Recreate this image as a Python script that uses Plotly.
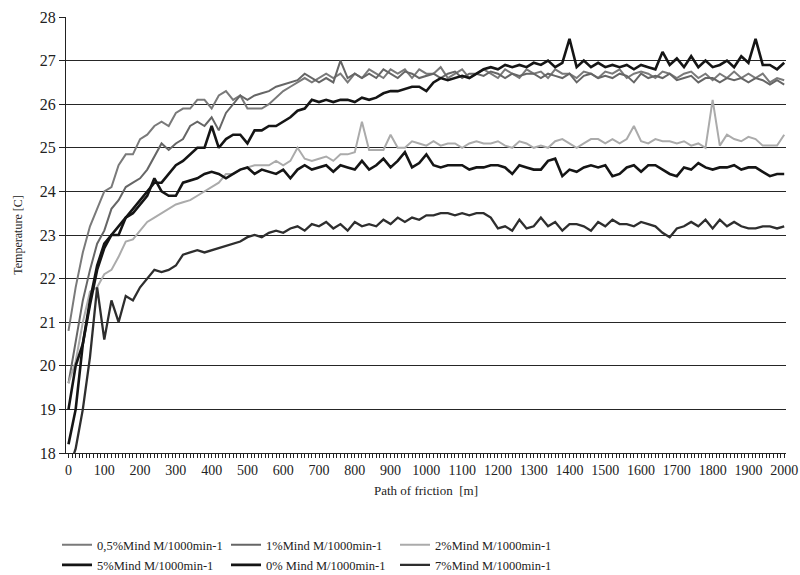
import plotly.graph_objects as go

# Path of friction [m], one reading every 20 m
distance = list(range(0, 2001, 20))

t_05 = [20.8, 21.8, 22.6, 23.2, 23.6, 24.0, 24.1, 24.6, 24.85, 24.85,
        25.2, 25.3, 25.5, 25.6, 25.5, 25.8, 25.9, 25.9, 26.1, 26.1,
        25.9, 26.2, 26.3, 26.1, 26.2, 25.9, 25.9, 25.9, 26.0, 26.15,
        26.3, 26.4, 26.5, 26.6, 26.5, 26.6, 26.7, 26.6, 26.7, 26.5,
        26.7, 26.6, 26.8, 26.7, 26.6, 26.8, 26.7, 26.8, 26.6, 26.8,
        26.7, 26.7, 26.85, 26.6, 26.7, 26.8, 26.6, 26.7, 26.8, 26.7,
        26.6, 26.8, 26.7, 26.6, 26.8, 26.7, 26.75, 26.6, 26.8, 26.7,
        26.7, 26.6, 26.75, 26.7, 26.6, 26.75, 26.7, 26.8, 26.6, 26.7,
        26.75, 26.7, 26.6, 26.75, 26.7, 26.6, 26.7, 26.75, 26.6, 26.7,
        26.55, 26.7, 26.6, 26.75, 26.6, 26.7, 26.6, 26.7, 26.5, 26.6,
        26.55]

t_1 = [19.6, 20.6, 21.5, 22.2, 22.8, 23.1, 23.6, 23.8, 24.1, 24.2,
       24.3, 24.5, 24.8, 25.1, 24.95, 25.1, 25.2, 25.5, 25.6, 25.5,
       25.7, 25.4, 25.8, 26.0, 26.2, 26.1, 26.2, 26.25, 26.3, 26.4,
       26.45, 26.5, 26.55, 26.7, 26.6, 26.5, 26.6, 26.5, 27.0, 26.6,
       26.7, 26.6, 26.7, 26.6, 26.8, 26.7, 26.6, 26.75, 26.7, 26.6,
       26.65, 26.7, 26.6, 26.7, 26.75, 26.6, 26.7, 26.7, 26.65, 26.75,
       26.7, 26.6, 26.7, 26.65, 26.7, 26.7, 26.6, 26.7, 26.65, 26.6,
       26.7, 26.5, 26.65, 26.7, 26.6, 26.65, 26.6, 26.7, 26.65, 26.5,
       26.7, 26.6, 26.65, 26.6, 26.7, 26.55, 26.6, 26.65, 26.5, 26.6,
       26.6, 26.5, 26.6, 26.55, 26.6, 26.5, 26.6, 26.55, 26.45, 26.55,
       26.45]

t_2 = [19.6, 20.1, 21.0, 21.7, 21.8, 22.1, 22.2, 22.5, 22.85, 22.9,
       23.1, 23.3, 23.4, 23.5, 23.6, 23.7, 23.75, 23.8, 23.9, 24.0,
       24.1, 24.2, 24.4, 24.4, 24.5, 24.55, 24.6, 24.6, 24.6, 24.7,
       24.6, 24.7, 25.0, 24.75, 24.7, 24.75, 24.8, 24.7, 24.85, 24.85,
       24.9, 25.6, 24.95, 24.95, 24.95, 25.3, 25.0, 25.0, 25.15, 25.1,
       25.05, 25.15, 25.05, 25.1, 25.1, 25.0, 25.1, 25.15, 25.1, 25.1,
       25.15, 25.05, 25.0, 25.15, 25.1, 25.0, 25.05, 25.0, 25.15, 25.2,
       25.1, 25.0, 25.1, 25.2, 25.2, 25.1, 25.2, 25.1, 25.2, 25.5,
       25.15, 25.1, 25.2, 25.15, 25.15, 25.1, 25.15, 25.05, 25.1, 25.0,
       26.1, 25.05, 25.3, 25.2, 25.15, 25.25, 25.2, 25.05, 25.05, 25.05,
       25.3]

t_5 = [18.2, 19.0, 20.5, 21.5, 22.3, 22.8, 23.0, 23.0, 23.4, 23.6,
       23.8, 24.0, 24.2, 24.2, 24.4, 24.6, 24.7, 24.85, 25.0, 25.0,
       25.5, 25.0, 25.2, 25.3, 25.3, 25.1, 25.4, 25.4, 25.5, 25.5,
       25.6, 25.7, 25.85, 25.9, 26.1, 26.05, 26.1, 26.05, 26.1, 26.1,
       26.05, 26.15, 26.1, 26.15, 26.25, 26.3, 26.3, 26.35, 26.4, 26.4,
       26.3, 26.5, 26.6, 26.55, 26.6, 26.65, 26.6, 26.7, 26.8, 26.85,
       26.8, 26.9, 26.85, 26.9, 26.85, 26.95, 26.9, 27.0, 26.85, 26.95,
       27.5, 26.85, 27.0, 26.85, 26.95, 26.85, 26.9, 26.85, 26.9, 26.8,
       26.9, 26.85, 26.8, 27.2, 26.9, 27.05, 26.85, 27.1, 26.85, 27.0,
       26.85, 26.9, 27.0, 26.85, 27.1, 26.95, 27.5, 26.9, 26.9, 26.8,
       26.95]

t_0 = [19.0, 20.0, 20.5, 21.4, 22.2, 22.7, 23.0, 23.2, 23.4, 23.5,
       23.7, 23.9, 24.3, 24.0, 23.9, 23.9, 24.2, 24.25, 24.3, 24.4,
       24.45, 24.4, 24.3, 24.4, 24.5, 24.55, 24.4, 24.5, 24.45, 24.4,
       24.5, 24.3, 24.5, 24.6, 24.5, 24.55, 24.6, 24.45, 24.6, 24.55,
       24.5, 24.7, 24.5, 24.6, 24.75, 24.55, 24.7, 24.9, 24.55, 24.65,
       24.85, 24.6, 24.55, 24.6, 24.6, 24.6, 24.5, 24.55, 24.55, 24.6,
       24.6, 24.55, 24.4, 24.6, 24.55, 24.5, 24.5, 24.7, 24.75, 24.35,
       24.5, 24.45, 24.55, 24.6, 24.55, 24.6, 24.35, 24.4, 24.55, 24.6,
       24.45, 24.6, 24.6, 24.5, 24.4, 24.35, 24.55, 24.5, 24.65, 24.55,
       24.5, 24.55, 24.55, 24.6, 24.5, 24.55, 24.55, 24.45, 24.35, 24.4,
       24.4]

t_7 = [17.6, 18.1, 19.0, 20.2, 21.8, 20.6, 21.5, 21.0, 21.6, 21.5,
       21.8, 22.0, 22.2, 22.15, 22.2, 22.3, 22.55, 22.6, 22.65, 22.6,
       22.65, 22.7, 22.75, 22.8, 22.85, 22.95, 23.0, 22.95, 23.05, 23.1,
       23.05, 23.15, 23.2, 23.1, 23.25, 23.2, 23.3, 23.15, 23.25, 23.1,
       23.3, 23.2, 23.25, 23.2, 23.35, 23.25, 23.4, 23.3, 23.4, 23.35,
       23.45, 23.45, 23.5, 23.5, 23.45, 23.5, 23.45, 23.5, 23.5, 23.4,
       23.15, 23.2, 23.1, 23.35, 23.15, 23.2, 23.4, 23.2, 23.3, 23.1,
       23.25, 23.25, 23.2, 23.1, 23.3, 23.2, 23.35, 23.25, 23.25, 23.2,
       23.3, 23.25, 23.2, 23.05, 22.95, 23.15, 23.2, 23.3, 23.2, 23.35,
       23.15, 23.35, 23.2, 23.3, 23.2, 23.15, 23.15, 23.2, 23.2, 23.15,
       23.2]

y_ticks = list(range(18, 29))
x_ticks = list(range(0, 2001, 100))

series = [
    ("0,5%Mind M/1000min-1", t_05, "#7a7a7a", 2, "legend"),
    ("1%Mind M/1000min-1", t_1, "#666666", 2, "legend"),
    ("2%Mind M/1000min-1", t_2, "#ababab", 2, "legend"),
    ("5%Mind M/1000min-1", t_5, "#151515", 2.6, "legend2"),
    ("0% Mind M/1000min-1", t_0, "#151515", 2.6, "legend2"),
    ("7%Mind M/1000min-1", t_7, "#2e2e2e", 2.3, "legend2"),
]

fig = go.Figure()
for name, vals, col, w, lg in series:
    fig.add_trace(go.Scatter(x=distance, y=vals, name=name, mode="lines",
                             line=dict(color=col, width=w), legend=lg))

serif = "Liberation Serif"
legend_common = dict(orientation="h", xanchor="left", yanchor="top",
                     font=dict(family=serif, size=12.5, color="#222"),
                     entrywidth=124, entrywidthmode="pixels",
                     bgcolor="rgba(0,0,0,0)", itemwidth=30,
                     tracegroupgap=0)

fig.update_layout(
    width=800, height=575,
    margin=dict(l=66, r=14, t=17, b=122, autoexpand=False),
    paper_bgcolor="white", plot_bgcolor="white",
    font=dict(family=serif, color="#222"),
    xaxis=dict(range=[-7, 2005], tickmode="array", tickvals=x_ticks,
               ticktext=[str(v) for v in x_ticks], automargin=False,
               showgrid=False, zeroline=False,
               showline=True, linecolor="#222", linewidth=1,
               ticks="outside", ticklen=4, tickcolor="#222",
               minor=dict(dtick=10, tick0=0, ticks="outside", ticklen=4,
                          tickcolor="#222", showgrid=False),
               tickfont=dict(family=serif, size=14, color="#222"),
               title=dict(text="Path of friction  [m]", standoff=9,
                          font=dict(family=serif, size=13, color="#222"))),
    yaxis=dict(range=[18, 28], tickmode="array", tickvals=y_ticks,
               automargin=False,
               showgrid=True, gridcolor="#262626", gridwidth=1,
               zeroline=False, showline=True, linecolor="#222", linewidth=1,
               ticks="outside", ticklen=6, tickcolor="#222",
               tickfont=dict(family=serif, size=16, color="#222"),
               title=dict(text="Temperature [C]", standoff=14,
                          font=dict(family=serif, size=12, color="#222"))),
    legend=dict(x=-0.0125, y=-0.177, **legend_common),
    legend2=dict(x=-0.0125, y=-0.223, **legend_common),
)

fig.write_html("out.html", config={"displayModeBar": False},
               post_script="document.body.style.margin='0';"
                           "document.body.style.overflow='hidden';")
